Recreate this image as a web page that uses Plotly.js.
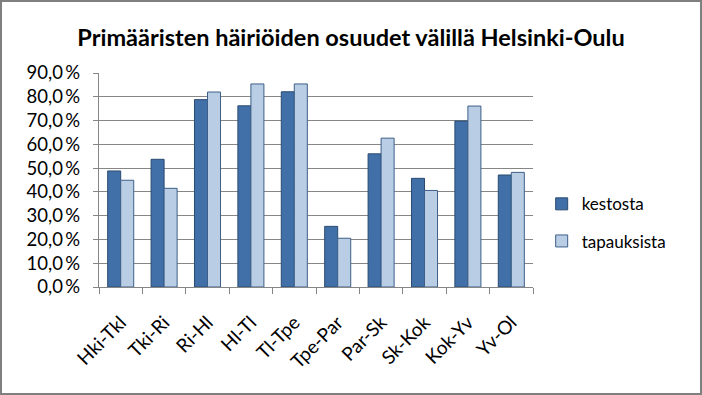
<!DOCTYPE html>
<html><head><meta charset="utf-8">
<script src="https://cdn.plot.ly/plotly-3.0.1.min.js"></script>
<style>html,body{margin:0;padding:0;background:#fff}#wrap{position:relative;width:702px;height:395px}#chart{width:702px;height:395px}#frame{position:absolute;left:0;top:0;width:702px;height:395px;box-sizing:border-box;border:2px solid #7f7f7f;pointer-events:none}</style>
</head><body><div id="wrap"><div id="chart"></div><div id="frame"></div></div>
<script>
const categories = ["Hki-Tkl","Tki-Ri","Ri-Hl","Hl-Tl","Tl-Tpe","Tpe-Par","Par-Sk","Sk-Kok","Kok-Yv","Yv-Ol"];
const kestosta = [48.8, 53.7, 78.8, 76.2, 82.1, 25.5, 56.0, 45.7, 69.8, 47.1];
const tapauksista = [44.9, 41.5, 82.0, 85.4, 85.4, 20.5, 62.6, 40.6, 76.1, 48.2];
const yTicks = [0,10,20,30,40,50,60,70,80,90];
const yTickText = yTicks.map(v => v.toFixed(1).replace('.', ',') + '\u2009%\u2002');

const font = "Lato, 'Open Sans', sans-serif";
const data = [
  {type:'bar', name:'kestosta', x:categories, y:kestosta, legendgroup:'a',
   marker:{color:'#4170a8', line:{color:'#2b4a70', width:1}}},
  {type:'bar', name:'tapauksista', x:categories, y:tapauksista, legendgroup:'b',
   marker:{color:'#b9cde5', line:{color:'#3d5f88', width:1}}}
];
const layout = {
  width:702, height:395,
  margin:{l:99, r:169, t:73, b:108},
  paper_bgcolor:'#fff', plot_bgcolor:'#fff',
  barmode:'group', bargap:0.4, bargroupgap:0,
  title:{text:'Primääristen häiriöiden osuudet välillä Helsinki-Oulu', font:{family:font, size:23.5, color:'#000', weight:'bold'}, x:0.5, xanchor:'center', y:0.905, yanchor:'middle'},
  xaxis:{type:'category', showline:true, linecolor:'#868686', linewidth:1, ticks:'outside', tickson:'boundaries', ticklen:6, tickcolor:'#868686', tickangle:-45, ticklabelstandoff:16, tickfont:{family:font, size:19, color:'#000'}, showgrid:false},
  yaxis:{range:[0,90], tickvals:yTicks, ticktext:yTickText, showline:true, linecolor:'#868686', linewidth:1, ticks:'outside', ticklen:5, tickcolor:'#868686', showgrid:true, gridcolor:'#868686', gridwidth:1, zeroline:false, tickfont:{family:font, size:18.5, color:'#000'}},
  legend:{x:1.02, y:0.30, xanchor:'left', yanchor:'middle', traceorder:'grouped', font:{family:font, size:17, color:'#000'}, tracegroupgap:12, itemwidth:30},
  showlegend:true
};
Plotly.newPlot('chart', data, layout, {displayModeBar:false, staticPlot:true});
</script></body></html>
